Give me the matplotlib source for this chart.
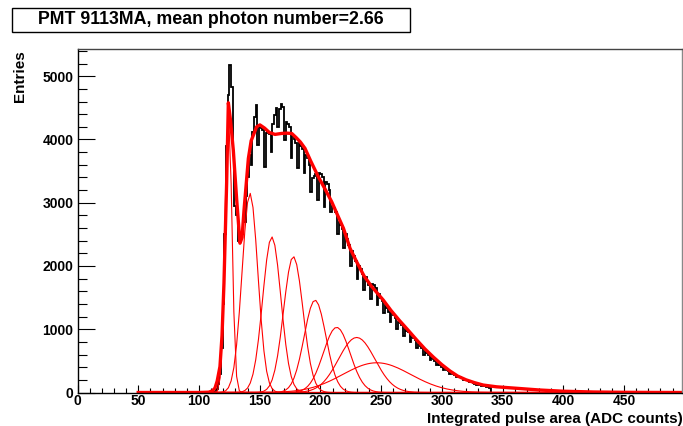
import numpy as np
import matplotlib
matplotlib.use("Agg")
import matplotlib.pyplot as plt
from matplotlib.patches import Rectangle
from matplotlib.ticker import MultipleLocator

# PMT single photon spectrum: histogram + multi-gaussian fit
plt.rcParams['font.family'] = ['Liberation Sans', 'DejaVu Sans']
plt.rcParams['font.weight'] = 'bold'

title = 'PMT 9113MA, mean photon number=2.66'
xlabel = 'Integrated pulse area (ADC counts)'
ylabel = 'Entries'

# histogram bins (ADC), 4 bins per row, the last one of each row is the low (DNL) bin
hist_start = 111.36
bin_width = 1.3625
hist_rows = [
    [5, 15, 50, 130],
    [300, 700, 1400, 2500],
    [3900, 4700, 5170, 4830],
    [3750, 2950, 2800, 2400],
    [2380, 2500, 2740, 2700],
    [3100, 3400, 3750, 3590],
    [4120, 4350, 4550, 3910],
    [4200, 4180, 4150, 3570],
    [4100, 4120, 4080, 3800],
    [4240, 4380, 4500, 4200],
    [4480, 4560, 4520, 3990],
    [4280, 4250, 4200, 3700],
    [4050, 4000, 3950, 3545],
    [3940, 3900, 3850, 3470],
    [3750, 3700, 3600, 3170],
    [3390, 3420, 3450, 3040],
    [3470, 3460, 3400, 2935],
    [3330, 3300, 3200, 2850],
    [2950, 2910, 2850, 2500],
    [2700, 2640, 2580, 2280],
    [2500, 2420, 2330, 2000],
    [2230, 2150, 2080, 1800],
    [2000, 1950, 1880, 1620],
    [1820, 1760, 1700, 1480],
    [1720, 1700, 1650, 1380],
    [1560, 1500, 1450, 1250],
    [1380, 1330, 1280, 1120],
    [1260, 1230, 1180, 1000],
    [1120, 1100, 1060, 900],
    [1000, 980, 950, 800],
    [880, 860, 830, 700],
    [760, 740, 700, 600],
    [650, 630, 600, 520],
    [550, 530, 500, 430],
    [460, 440, 410, 360],
    [380, 360, 340, 300],
    [310, 300, 280, 240],
    [250, 240, 230, 200],
    [200, 190, 180, 160],
    [160, 150, 140, 125],
    [125, 120, 110, 100],
    [95, 90, 85, 75],
]

# total fit curve
fit_x = [50, 100, 108, 111, 113.2, 115, 117.3, 119, 120.6, 122.8, 124.2, 126, 128.3,
         131.1, 133.8, 135.5, 137.1, 140.7, 143, 147.5, 150.2, 154, 158, 162.6, 168,
         172, 176.4, 180, 183.5, 187.3, 192, 198.3, 204, 209.3, 214, 219, 224.4, 230,
         236, 242, 251.8, 258, 265, 272, 279.3, 286, 293, 300, 306.7, 313, 320, 327,
         334, 345, 362, 380, 400, 425, 450, 475, 497]
fit_y = [0, 0, 5, 25, 70, 180, 410, 900, 1730, 3310, 4580, 4300, 3830,
         3040, 2360, 2450, 2880, 3700, 3980, 4200, 4230, 4180, 4110, 4080, 4095,
         4100, 4095, 4030, 3960, 3860, 3660, 3410, 3210, 3015, 2810, 2595, 2280, 2060,
         1840, 1680, 1460, 1300, 1140, 990, 830, 690, 560, 440, 340, 260, 200, 155,
         118, 90, 66, 40, 20, 8, 3, 1, 0]

# single gaussian components (mean, height, sigma)
comp_mean = [124.3, 142, 160, 177.7, 195.6, 213.4, 229.9, 246.4]
comp_height = [4500, 3150, 2460, 2150, 1460, 1030, 870, 470]
comp_sigma = [2.8, 6.5, 7.5, 8, 9, 11, 15, 28]

fig = plt.figure(figsize=(6.83, 4.26), dpi=100)
ax = fig.add_axes([77.5 / 683, 1 - 392.5 / 426, (681.7 - 77.5) / 683, (392.5 - 49) / 426])

counts = np.array(hist_rows).ravel()
edges = hist_start + bin_width * np.arange(len(counts) + 1)
ax.stairs(counts, edges, color='black', lw=1.3)

xs = np.linspace(50, 500, 201)
for m, h, s in zip(comp_mean, comp_height, comp_sigma):
    ax.plot(xs, h * np.exp(-0.5 * ((xs - m) / s) ** 2), color='red', lw=0.8)

ax.plot(fit_x, fit_y, color='red', lw=2.4, solid_joinstyle='round')

ax.set_xlim(0, 497.5)
ax.set_ylim(0, 5430)
ax.xaxis.set_major_locator(MultipleLocator(50))
ax.xaxis.set_minor_locator(MultipleLocator(10))
ax.yaxis.set_major_locator(MultipleLocator(1000))
ax.yaxis.set_minor_locator(MultipleLocator(200))
ax.tick_params(axis='x', which='major', direction='in', length=6, width=0.8, pad=1, labelsize=10)
ax.tick_params(axis='x', which='minor', direction='in', length=3.3, width=0.8)
ax.tick_params(axis='y', which='major', direction='in', length=12.5, width=0.8, pad=3, labelsize=10)
ax.tick_params(axis='y', which='minor', direction='in', length=6.5, width=0.8)
for lab in ax.get_xticklabels() + ax.get_yticklabels():
    lab.set_fontweight('bold')

ax.spines['left'].set_color('black')
ax.spines['bottom'].set_color('black')
ax.spines['top'].set_color('#444444')
ax.spines['right'].set_color('#888888')
for sp in ax.spines.values():
    sp.set_linewidth(1.0)

fig.text(20 / 683, 1 - 50 / 426, ylabel, rotation=90, ha='center', va='top', fontsize=11, fontweight='bold')
fig.text(682.5 / 683, -0.5 / 426, xlabel, ha='right', va='bottom', fontsize=11, fontweight='bold')

fig.add_artist(Rectangle((12 / 683, 1 - 32 / 426), 398 / 683, 24 / 426, transform=fig.transFigure,
                         facecolor='white', edgecolor='black', lw=1.0))
fig.text(211 / 683, 1 - 20 / 426, title, ha='center', va='center', fontsize=12.8, fontweight='bold')

fig.savefig('out.png', dpi=100)
